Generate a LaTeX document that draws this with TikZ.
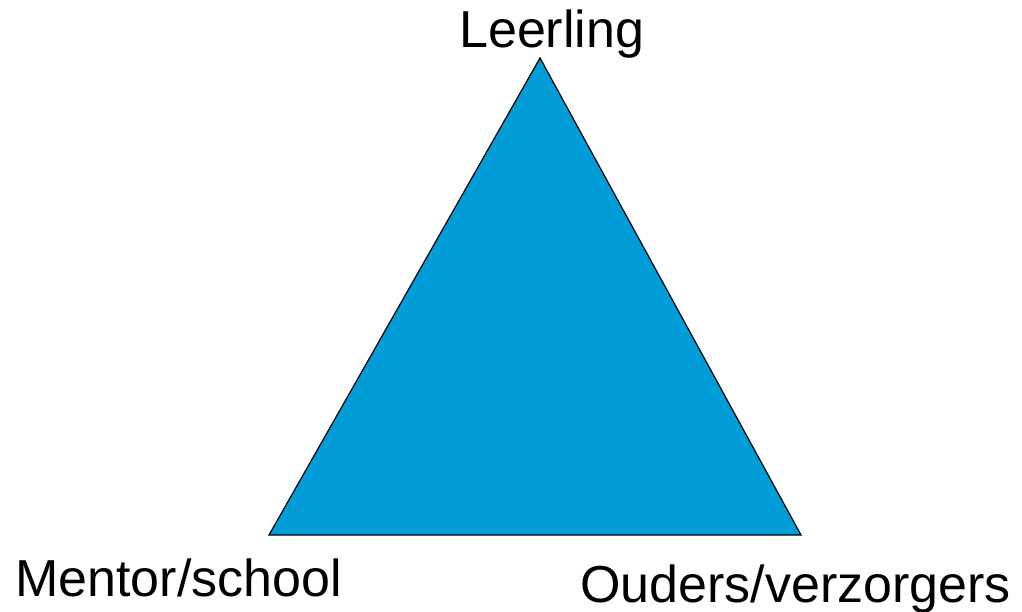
\documentclass[tikz,border=0pt]{standalone}
\usepackage{fontspec}
\setmainfont{Liberation Sans}
\definecolor{triblue}{RGB}{0,157,216}
\begin{document}
\begin{tikzpicture}[x=1pt,y=-1pt,
  lbl/.style={inner sep=0pt,font=\fontsize{52}{60}\selectfont,anchor=base west}]
\useasboundingbox (0,0) rectangle (1022,612);
\coordinate (top) at (540,58);
\coordinate (bl) at (269,535);
\coordinate (br) at (801,535);
\filldraw[fill=triblue,draw=black,line width=1.2pt,line join=miter] (top) -- (br) -- (bl) -- cycle;
\node[lbl] (leerling) at (459,48) {Leerling};
\node[lbl] (mentor) at (15,596) {Mentor/school};
\node[lbl] (ouders) at (580,602) {Ouders/verzorgers};
\end{tikzpicture}
\end{document}
